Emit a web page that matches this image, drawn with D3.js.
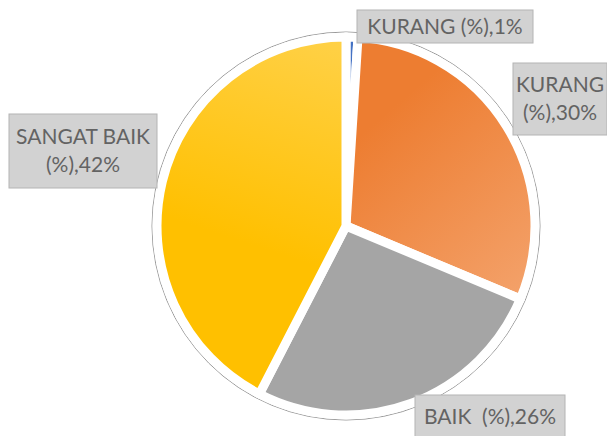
<!DOCTYPE html>
<html>
<head>
<meta charset="utf-8">
<script src="https://cdn.jsdelivr.net/npm/d3@7"></script>
<style>
  html, body { margin: 0; padding: 0; background: #fff; }
  svg { display: block; }
  .lbl text { font-family: Lato, "Open Sans", sans-serif; font-size: 21px; fill: #636363; }
</style>
</head>
<body>
<svg id="chart" width="607" height="436"></svg>
<script>
// data
var categories = ["KURANG", "KURANG", "BAIK ", "SANGAT BAIK"];
var values = [1, 30, 26, 42];
var colors = ["#4472c4", "#ed7d31", "#a5a5a5", "#ffc000"];
var lightColors = ["#5b85d0", "#f4a46e", "#b3b3b3", "#ffd24c"];

// label boxes: [x, y, w, h] relative to pie center, and text lines
var labelBoxes = [
  [11, -216, 176, 33],
  [167, -163, 94, 72],
  [-337, -112, 148, 74],
  [69, 169, 150, 43]
];
var labelLines = [
  ["KURANG (%),1%"],
  ["KURANG", "(%),30%"],
  ["SANGAT BAIK", "(%),42%"],
  ["BAIK  (%),26%"]
];

var cx = 346, cy = 226, r = 189;
var svg = d3.select("#chart");

// gradients (in the pie group's local space)
var defs = svg.append("defs");
var gradDirs = [[0,0,0,1],[0.3,0.1,0.9,0.8],[0,0,0,1],[0.6,0,0.4,0.6]];
values.forEach(function(v, i) {
  var g = defs.append("linearGradient").attr("id", "grad" + i)
    .attr("gradientUnits", "userSpaceOnUse")
    .attr("x1", (gradDirs[i][0] - 0.5) * 2 * r).attr("y1", (gradDirs[i][1] - 0.5) * 2 * r)
    .attr("x2", (gradDirs[i][2] - 0.5) * 2 * r).attr("y2", (gradDirs[i][3] - 0.5) * 2 * r);
  if (i == 3) {
    g.append("stop").attr("offset", "0%").attr("stop-color", lightColors[i]);
    g.append("stop").attr("offset", "100%").attr("stop-color", colors[i]);
  } else if (i == 1) {
    g.append("stop").attr("offset", "30%").attr("stop-color", colors[i]);
    g.append("stop").attr("offset", "100%").attr("stop-color", lightColors[i]);
  } else {
    g.append("stop").attr("offset", "0%").attr("stop-color", colors[i]);
    g.append("stop").attr("offset", "100%").attr("stop-color", colors[i]);
  }
});

// outer outline
svg.append("circle")
  .attr("cx", cx).attr("cy", cy).attr("r", r + 5)
  .attr("fill", "#fff").attr("stroke", "#9a9a9a").attr("stroke-width", 1);

var pie = d3.pie().sort(null).value(function(d) { return d; });
var arc = d3.arc().innerRadius(0).outerRadius(r);

var g = svg.append("g").attr("transform", "translate(" + cx + "," + cy + ")");
g.selectAll("path.slice")
  .data(pie(values))
  .enter().append("path")
  .attr("class", "slice")
  .attr("d", arc)
  .attr("fill", function(d, i) { return "url(#grad" + i + ")"; })
  .attr("stroke", "#fff")
  .attr("stroke-width", 9)
  .attr("stroke-linejoin", "round");

// labels
var lbl = g.selectAll("g.lbl")
  .data(labelBoxes)
  .enter().append("g")
  .attr("class", "lbl");
lbl.append("rect")
  .attr("x", function(d) { return d[0]; })
  .attr("y", function(d) { return d[1]; })
  .attr("width", function(d) { return d[2]; })
  .attr("height", function(d) { return d[3]; })
  .attr("fill", "#d2d2d2")
  .attr("stroke", "#b4b4b4")
  .attr("stroke-width", 1);
lbl.each(function(d, i) {
  var lines = labelLines[i];
  var lh = 28;
  var top = d[1] + d[3] / 2 - (lines.length * lh) / 2;
  var t = d3.select(this).append("text")
    .attr("text-anchor", "middle")
    .attr("xml:space", "preserve")
    .style("white-space", "pre");
  lines.forEach(function(line, j) {
    t.append("tspan")
      .attr("x", d[0] + d[2] / 2)
      .attr("y", top + lh * j + 21)
      .text(line);
  });
});
</script>
</body>
</html>
